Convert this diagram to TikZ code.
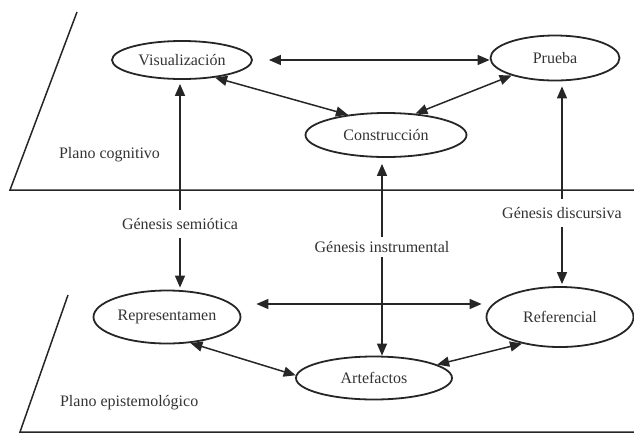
\documentclass[tikz,border=0pt]{standalone}
\usepackage{fontspec}
\setmainfont{Liberation Serif}
\usepackage{tikz}
\usetikzlibrary{
    arrows.meta,
    shapes.geometric,
    calc
}
\tikzset{elip/.style={ellipse, draw=black!85, line width=0.9pt, inner sep=0pt, font=\fontsize{8}{9}\selectfont, text=black!80}}
\tikzset{gen/.style={fill=white, inner sep=4pt, font=\fontsize{8}{9}\selectfont, text=black!80}}
\tikzset{plano/.style={anchor=west, font=\fontsize{8}{9}\selectfont, text=black!80}}
\tikzset{flecha/.style={line width=0.75pt, draw=black!85}}

\begin{document}
\begin{tikzpicture}[x=0.5pt, y=-0.5pt, >={Triangle[length=6pt,width=5pt]}]
                        \useasboundingbox (0, 0) rectangle (634, 435);

                        % planos
                        \draw[flecha] (77, 12) -- (10, 190) -- (634, 190);
                        \draw[flecha] (68, 295) -- (20, 432) -- (634, 432);
                        \node[plano] (pcog) at (52, 155) {Plano cognitivo};
                        \node[plano] (pepi) at (53, 403) {Plano epistemológico};

                        % plano cognitivo
                        \node[elip, minimum width=70pt, minimum height=19pt] (vis) at (182, 60) {Visualización};
                        \node[elip, minimum width=64.5pt, minimum height=22.5pt] (prueba) at (555, 58) {Prueba};
                        \node[elip, minimum width=80.5pt, minimum height=22pt] (con) at (386, 135) {Construcción};

                        % plano epistemologico
                        \node[elip, minimum width=73.5pt, minimum height=26.5pt] (repr) at (167, 317) {Representamen};
                        \node[elip, minimum width=73.5pt, minimum height=30pt] (ref) at (560, 317) {Referencial};
                        \node[elip, minimum width=78pt, minimum height=21.5pt] (art) at (374, 378) {Artefactos};

                        % genesis
                        \node[gen] (gsem) at (180, 224) {Génesis semiótica};
                        \node[gen] (gdis) at (562, 213) {Génesis discursiva};

                        \draw[flecha, <->, shorten <=8pt] (vis.east) -- (vis.east -| prueba.west);
                        \draw[flecha, <->] (vis.-28) -- (con.152);
                        \draw[flecha, <->] (con.36) -- (prueba.-158);
                        \draw[flecha, <->, shorten <=7.5pt, shorten >=2pt] ([yshift=6.5pt]repr.east) -- ([yshift=6.5pt]repr.east -| ref.west);
                        \draw[flecha, <->] (repr.-48) -- (art.178);
                        \draw[flecha, <->] (art.12) -- (ref.-145);

                        \draw[flecha, ->, shorten >=2pt] (gsem) -- (gsem |- vis.south);
                        \draw[flecha, ->, shorten >=1pt] (gsem) -- (gsem |- repr.north);
                        \draw[flecha, ->, shorten >=2.5pt] (gdis) -- (gdis |- prueba.south);
                        \draw[flecha, ->, shorten >=1pt] (gdis) -- (gdis |- ref.north);

                        \coordinate (cins) at (382, 247);
                        \draw[flecha, <->, shorten <=3pt] (cins |- con.south) -- (cins |- art.north);
                        \node[gen, inner sep=2pt] (gins) at (cins) {Génesis instrumental};
                    \end{tikzpicture}
\end{document}
